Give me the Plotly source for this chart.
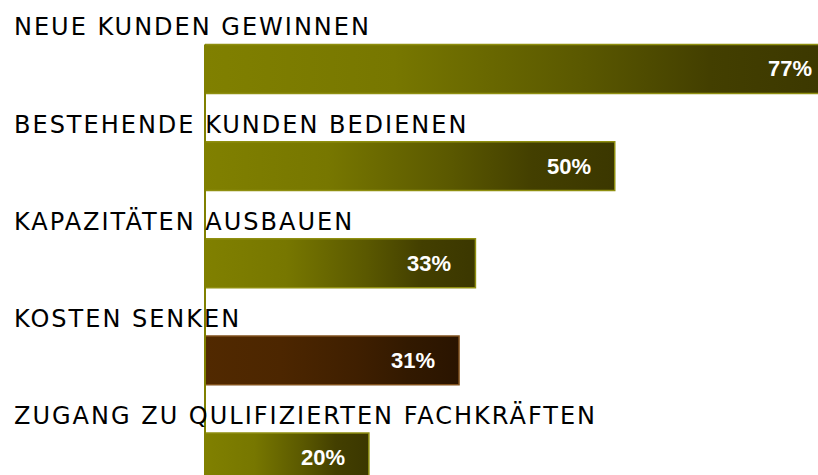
import plotly.graph_objects as go

categories = [
    "NEUE KUNDEN GEWINNEN",
    "BESTEHENDE KUNDEN BEDIENEN",
    "KAPAZITÄTEN AUSBAUEN",
    "KOSTEN SENKEN",
    "ZUGANG ZU QULIFIZIERTEN FACHKRÄFTEN",
]
values = [77, 50, 33, 31, 20]
value_labels = ["77%", "50%", "33%", "31%", "20%"]
highlight = [False, False, False, True, False]

OLIVE_SCALE = [[0, "#808000"], [0.3, "#777700"], [0.6, "#5a5800"], [0.8, "#433f00"], [1, "#3b3700"]]
BROWN_SCALE = [[0, "#512900"], [0.3, "#4c2600"], [0.6, "#3f1f00"], [0.8, "#321900"], [1, "#2a1400"]]
OLIVE_LINE = "#8f8f10"
BROWN_LINE = "#80501c"

H = 0.252  # half bar thickness in category units
Y_TOP = -0.71
Y_BOT = 4.18
X_MAX = 74.8
PX_PER_UNIT = 613 / X_MAX
LABEL_PAD = 22 / PX_PER_UNIT

fig = go.Figure()

for i, (cat, v, lab, hi) in enumerate(zip(categories, values, value_labels, highlight)):
    fig.add_trace(go.Scatter(
        x=[0, v, v, 0, 0],
        y=[i - H, i - H, i + H, i + H, i - H],
        mode="lines",
        fill="toself",
        fillgradient=dict(type="horizontal", colorscale=BROWN_SCALE if hi else OLIVE_SCALE),
        line=dict(color=BROWN_LINE if hi else OLIVE_LINE, width=1.5),
        hoverinfo="skip",
        showlegend=False,
    ))
    fig.add_annotation(
        x=v - LABEL_PAD, y=i, xref="x", yref="y", text=lab, showarrow=False,
        xanchor="right", yanchor="middle",
        font=dict(family="Liberation Sans, Arial", size=22, color="white", weight="bold"),
    )
    fig.add_annotation(
        x=0, y=i - H, xref="paper", yref="y",
        text='<span style="letter-spacing:2px">' + cat + "</span>",
        showarrow=False,
        xanchor="left", yanchor="bottom", xshift=-193, yshift=1,
        font=dict(family="DejaVu Sans", size=24, color="black"),
    )

# vertical axis line starting at the first bar (paper coords, so it is not clipped)
axis_top = (Y_BOT + H) / (Y_BOT - Y_TOP)
fig.add_shape(type="line", xref="paper", yref="paper", x0=0, x1=0, y0=axis_top, y1=0,
              line=dict(color="#808000", width=2), layer="above")

fig.update_layout(
    width=818, height=475,
    margin=dict(l=205, r=0, t=0, b=0),
    paper_bgcolor="white", plot_bgcolor="white",
    xaxis=dict(range=[0, X_MAX], visible=False, fixedrange=True),
    yaxis=dict(range=[Y_BOT, Y_TOP], visible=False, fixedrange=True),
    showlegend=False,
)

fig.write_html("out.html", config={"displayModeBar": False},
               post_script="document.body.style.margin='0px';")
